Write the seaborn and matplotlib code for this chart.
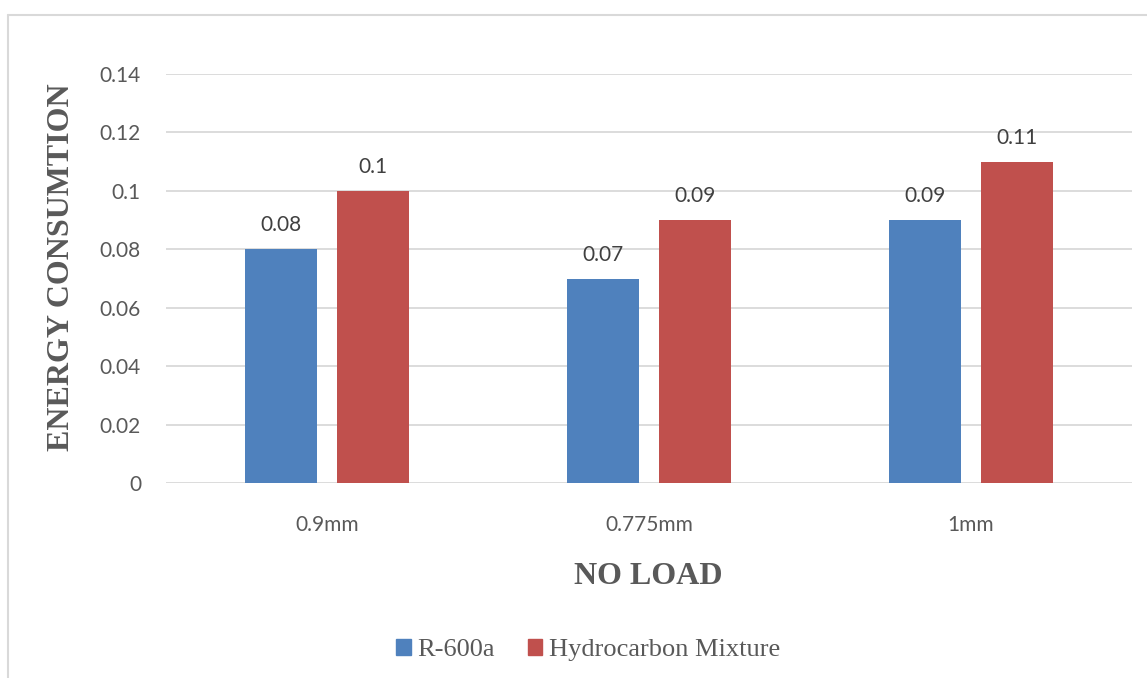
import matplotlib
matplotlib.use("Agg")
import matplotlib.pyplot as plt
import seaborn as sns
import pandas as pd
from matplotlib.lines import Line2D

categories = ["0.9mm", "0.775mm", "1mm"]
series_names = ["R-600a", "Hydrocarbon Mixture"]
r600a = [0.08, 0.07, 0.09]
hc_mix = [0.10, 0.09, 0.11]
y_ticks = [0, 0.02, 0.04, 0.06, 0.08, 0.1, 0.12, 0.14]
y_tick_labels = ["0", "0.02", "0.04", "0.06", "0.08", "0.1", "0.12", "0.14"]
colors = ["#4F81BD", "#C0504D"]

df = pd.DataFrame({
    "cat": categories * 2,
    "series": [series_names[0]] * 3 + [series_names[1]] * 3,
    "val": r600a + hc_mix,
})

sns.set_theme(style="white")
plt.rcParams["font.family"] = ["Lato", "DejaVu Sans"]

W, H = 1147, 678
fig = plt.figure(figsize=(W / 100, H / 100), dpi=100)
ax = fig.add_axes([166 / W, 1 - 483 / H, (1132 - 166) / W, (483 - 74) / H])

sns.barplot(data=df, x="cat", y="val", hue="series", order=categories,
            hue_order=series_names, palette=colors, width=0.572, gap=0.21,
            saturation=1, linewidth=0, ax=ax, legend=False)

ax.set_ylim(0, 0.14)
ax.set_yticks(y_ticks)
ax.set_yticklabels(y_tick_labels)
ax.set_xlim(-0.5, 2.5)
ax.grid(axis="y", color="#D9D9D9", linewidth=1.3)
ax.set_axisbelow(True)
for s in ax.spines.values():
    s.set_visible(False)
ax.tick_params(axis="both", length=0, labelsize=15, colors="#595959")
ax.tick_params(axis="y", pad=18)
ax.tick_params(axis="x", pad=23)
ax.set_xlabel("")
ax.set_ylabel("")

for cont in ax.containers:
    ax.bar_label(cont, labels=[f"{v:g}" for v in cont.datavalues],
                 padding=10, fontsize=15, color="#404040")

serif = ["Liberation Serif", "DejaVu Serif"]
fig.text(61.5 / W, 1 - 267.5 / H, "ENERGY CONSUMTION", rotation=90,
         ha="center", va="center", fontsize=23, fontweight="bold",
         color="#595959", family=serif)
fig.text(648 / W, 1 - 576 / H, "NO LOAD", ha="center", va="center",
         fontsize=23, fontweight="bold", color="#595959", family=serif)

handles = [plt.Rectangle((0, 0), 1, 1, color=c) for c in colors]
leg = fig.legend(handles, series_names, loc="center",
                 bbox_to_anchor=(588 / W, 1 - 650 / H), ncol=2, frameon=False,
                 prop={"family": serif, "size": 19}, handlelength=0.55,
                 handleheight=0.55, handletextpad=0.25, columnspacing=1.25)
for t in leg.get_texts():
    t.set_color("#595959")

# chart area border
fig.add_artist(Line2D([8 / W, 1.0], [1 - 15 / H, 1 - 15 / H],
                      transform=fig.transFigure, color="#D9D9D9", linewidth=1.5))
fig.add_artist(Line2D([8 / W, 8 / W], [0, 1 - 15 / H],
                      transform=fig.transFigure, color="#D9D9D9", linewidth=1.5))

fig.savefig("out.png", dpi=100)
